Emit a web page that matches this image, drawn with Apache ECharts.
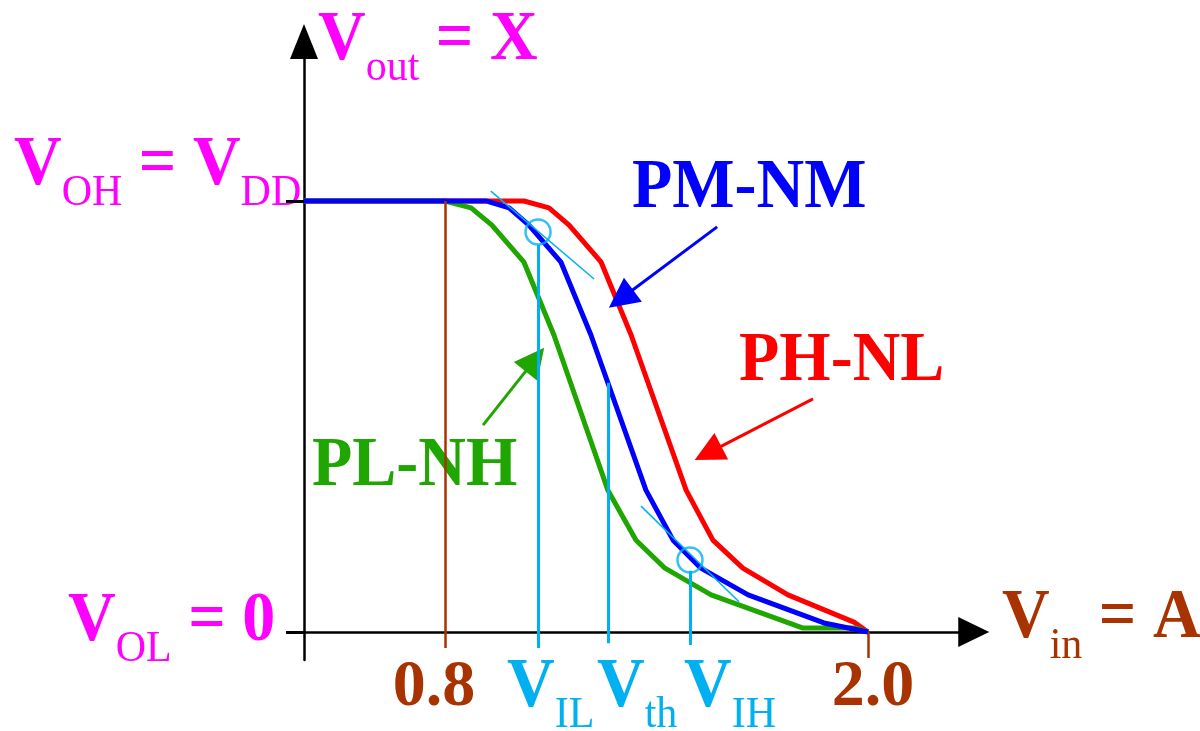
<!DOCTYPE html>
<html>
<head>
<meta charset="utf-8">
<title>Inverter VTC</title>
<script src="https://cdn.jsdelivr.net/npm/echarts@6.0.0/dist/echarts.min.js"></script>
<style>
  html, body { margin: 0; padding: 0; background: #fff; }
  #chart { width: 1200px; height: 731px; }
</style>
</head>
<body>
<div id="chart"></div>
<script>
// transfer curves, Vin (x) and Vout as fraction of VDD (y)
var redVin = [0.4, 1.024, 1.095, 1.152, 1.243, 1.328, 1.484, 1.560, 1.645, 1.773, 1.960, 2.0]
var redVout = [1, 1, 0.984, 0.944, 0.858, 0.689, 0.329, 0.213, 0.148, 0.086, 0.023, 0]
var blueVin = [0.4, 0.916, 0.982, 1.038, 1.129, 1.214, 1.370, 1.447, 1.526, 1.660, 1.875, 2.0]
var blueVout = [1, 1, 0.984, 0.944, 0.858, 0.689, 0.329, 0.213, 0.148, 0.086, 0.021, 0]
var greenVin = [0.4, 0.8, 0.874, 0.933, 1.024, 1.109, 1.262, 1.342, 1.424, 1.555, 1.816, 1.966, 2.0]
var greenVout = [1, 1, 0.984, 0.944, 0.858, 0.689, 0.329, 0.213, 0.148, 0.086, 0.009, 0.009, 0]

var xTickLabels = [0.8, 2.0]
var yTicks = [0, 1]

// V_IL, V_th, V_IH guide lines
var guideVin = [1.064, 1.262, 1.495]
var guideTop = [0.898, 0.578, 0.142]
var guideBottom = [-0.037, -0.026, -0.030]
var circleVin = [1.064, 1.495]
var circleVout = [0.928, 0.167]
var tangentIL = [[0.930, 1.023], [1.223, 0.819]]
var tangentIH = [[1.356, 0.292], [1.634, 0.070]]
var lineLowIn = [[0.8, 1], [0.8, -0.037]]

// annotation arrows [from, to]
var arrowPM = [[1.572, 0.940], [1.299, 0.773]]
var arrowPH = [[1.844, 0.541], [1.546, 0.415]]
var arrowPL = [[0.908, 0.480], [1.055, 0.632]]

var RED = '#ff0000'
var BLUE = '#0000ff'
var GREEN = '#20a600'
var CYAN = '#00b0f0'
var BROWN = '#a83300'
var MAGENTA = '#ff00ff'
var FONT = 'Liberation Serif'
var SY = 1.07 // the original lettering is a bit taller than Liberation Serif

function zip (xs, ys) {
  return xs.map(function (x, i) { return [x, ys[i]] })
}

function seg (pair, color, width, arrow) {
  return [
    { coord: pair[0], symbol: 'none' },
    { coord: pair[1], symbol: arrow ? 'triangle' : 'none', symbolSize: 30, lineStyle: { color: color, width: width, type: 'solid' } }
  ]
}

function markLine (items, color, width) {
  return {
    silent: true,
    animation: false,
    symbol: ['none', 'none'],
    label: { show: false },
    lineStyle: { color: color, width: width, type: 'solid' },
    itemStyle: { color: color },
    emphasis: { disabled: true },
    data: items
  }
}

var rich = {
  b: { fontFamily: FONT, fontWeight: 'bold', fontSize: 66, height: 66, verticalAlign: 'top' },
  s: { fontFamily: FONT, fontWeight: 'normal', fontSize: 42, height: 118, verticalAlign: 'top' }
}

// x = left edge, base = baseline of the big letters
function label (x, base, color, text) {
  return {
    type: 'text',
    x: x,
    y: base - 52 * SY,
    scaleY: SY,
    silent: true,
    style: { text: text, rich: rich, fill: color, align: 'left', verticalAlign: 'top' }
  }
}

var chart = echarts.init(document.getElementById('chart'))
chart.setOption({
  backgroundColor: '#fff',
  animation: false,
  grid: { left: 304, top: 41.5, width: 669.75, height: 618.5, outerBoundsMode: 'none', containLabel: false },
  xAxis: {
    type: 'value',
    min: 0.4,
    max: 2.3,
    splitLine: { show: false },
    axisLine: {
      onZero: true,
      symbol: ['none', 'triangle'],
      symbolSize: [30, 31],
      lineStyle: { color: '#000', width: 2.5 }
    },
    axisTick: { customValues: [2.0], length: 26, lineStyle: { color: BROWN, width: 2.5 } },
    axisLabel: {
      customValues: xTickLabels,
      margin: -5,
      formatter: function (v) {
        return (v < 1 ? '{a|' : '{c|') + v.toFixed(1) + '}'
      },
      rich: {
        a: { fontFamily: FONT, fontWeight: 'bold', fontSize: 66, color: BROWN, padding: [0, 22, 0, 0] },
        c: { fontFamily: FONT, fontWeight: 'bold', fontSize: 66, color: BROWN, padding: [0, 0, 0, 10] }
      }
    }
  },
  yAxis: {
    type: 'value',
    min: -0.065,
    max: 1.37,
    splitLine: { show: false },
    axisLine: {
      onZero: false,
      symbol: ['none', 'triangle'],
      symbolSize: [28, 35],
      lineStyle: { color: '#000', width: 2.5 }
    },
    axisTick: { customValues: yTicks, length: 18, lineStyle: { color: '#000', width: 3 } },
    axisLabel: { show: false }
  },
  graphic: [
    label(318, 61, MAGENTA, '{b|V}{s|out}{b| = X}'),
    label(14, 186, MAGENTA, '{b|V}{s|OH}{b| = V}{s|DD}'),
    label(68, 642, MAGENTA, '{b|V}{s|OL}{b| = 0}'),
    label(1002, 639, BROWN, '{b|V}{s|in}{b| = A}'),
    label(507, 708, CYAN, '{b|V}{s|IL}'),
    label(597, 708, CYAN, '{b|V}{s|th}'),
    label(684, 708, CYAN, '{b|V}{s|IH}'),
    label(632, 209, BLUE, '{b|PM-NM}'),
    label(739, 382, RED, '{b|PH-NL}'),
    label(312, 487, GREEN, '{b|PL-NH}')
  ],
  series: [
    {
      name: 'PH-NL',
      type: 'line',
      symbol: 'none',
      data: zip(redVin, redVout),
      lineStyle: { color: RED, width: 5 },
      markLine: markLine([seg(arrowPH, RED, 3, true)], RED, 3)
    },
    {
      name: 'PL-NH',
      type: 'line',
      symbol: 'none',
      data: zip(greenVin, greenVout),
      lineStyle: { color: GREEN, width: 5 },
      markLine: markLine([seg(arrowPL, GREEN, 3, true)], GREEN, 3)
    },
    {
      name: 'PM-NM',
      type: 'line',
      symbol: 'none',
      data: zip(blueVin, blueVout),
      lineStyle: { color: BLUE, width: 5 },
      markLine: markLine([seg(arrowPM, BLUE, 3, true)], BLUE, 3)
    },
    {
      name: 'points',
      type: 'scatter',
      symbol: 'circle',
      symbolSize: 25,
      silent: true,
      z: 5,
      data: zip(circleVin, circleVout),
      itemStyle: { color: 'rgba(0,0,0,0)', borderColor: CYAN, borderWidth: 2.5 },
      markLine: markLine(
        guideVin.map(function (v, i) {
          return seg([[v, guideTop[i]], [v, guideBottom[i]]], CYAN, 3, false)
        }).concat([
          seg(tangentIL, CYAN, 1.5, false),
          seg(tangentIH, CYAN, 1.5, false),
          seg(lineLowIn, BROWN, 2.5, false)
        ]),
        CYAN, 3
      )
    }
  ]
})
</script>
</body>
</html>
